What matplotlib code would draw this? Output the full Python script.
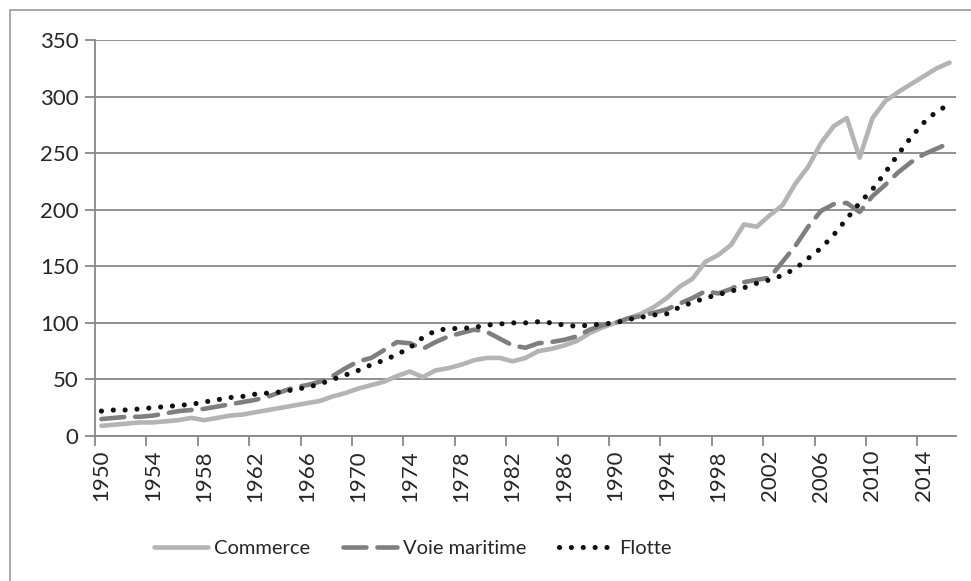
import numpy as np
import matplotlib
matplotlib.use("Agg")
import matplotlib.pyplot as plt
from matplotlib.patches import Rectangle

years = list(range(1950, 2017))

commerce = [9, 10, 11, 12, 12, 13, 14, 16, 14, 16,
            18, 19, 21, 23, 25, 27, 29, 31, 35, 38,
            42, 45, 48, 53, 57, 52, 58, 60, 63, 67,
            69, 69, 66, 69, 75, 77, 80, 84, 91, 96,
            100, 104, 108, 114, 122, 132, 139, 154, 160, 169,
            187, 185, 195, 204, 223, 238, 259, 274, 281, 246,
            281, 296, 304, 311, 318, 325, 330]

voie_maritime = [15, 16, 17, 17, 18, 20, 22, 23, 24, 26,
                 28, 30, 32, 35, 39, 43, 45, 48, 53, 60,
                 66, 69, 76, 83, 82, 77, 83, 88, 91, 94,
                 92, 86, 80, 78, 82, 83, 85, 88, 94, 98,
                 100, 104, 106, 109, 112, 117, 122, 128, 126, 130,
                 136, 138, 140, 154, 168, 185, 199, 205, 206, 198,
                 212, 222, 233, 242, 249, 254, 259]

flotte = [22, 23, 23, 24, 25, 26, 27, 28, 30, 32,
          34, 35, 37, 38, 39, 41, 43, 46, 50, 54,
          58, 63, 67, 72, 78, 87, 93, 95, 95, 96,
          98, 99, 100, 100, 101, 100, 98, 97, 98, 99,
          100, 103, 105, 107, 108, 114, 118, 122, 125, 128,
          131, 135, 138, 142, 148, 157, 166, 178, 192, 206,
          218, 233, 249, 264, 277, 287, 293]

plt.rcParams['font.family'] = ['Lato', 'DejaVu Sans']

W, H = 971, 581
fig = plt.figure(figsize=(W / 100, H / 100), dpi=100)
ax = fig.add_axes([95 / W, 1 - 436 / H, (956 - 95) / W, (436 - 40) / H])

# outer frame of the original chart object
fig.patches.append(Rectangle((10 / W, -0.1), 1.2, 1.1 - 10 / H, transform=fig.transFigure,
                             fill=False, edgecolor='#9a9a9a', lw=1.2))

x = np.arange(len(years))
ax.plot(x, commerce, color='#b4b4b4', lw=3.3, solid_capstyle='round', label='Commerce')
ax.plot(x, voie_maritime, color='#7f7f7f', lw=3.3, linestyle=(0, (5, 2.4)),
        dash_capstyle='round', label='Voie maritime')
ax.plot(x, flotte, color='#111111', lw=3.7, linestyle=(0, (0.01, 2.3)),
        dash_capstyle='round', label='Flotte')

ax.set_xlim(-0.5, len(years) - 0.5)
ax.set_ylim(0, 350)
ax.set_yticks(range(0, 351, 50))
ax.yaxis.grid(True, color='#888888', lw=1.3)
ax.set_axisbelow(True)

ax.set_xticks(x[::4])
ax.set_xticklabels([str(y) for y in years[::4]], rotation=90)
ax.set_xticks(np.arange(-0.5, len(years), 4), minor=True)
ax.tick_params(axis='x', which='major', length=0, pad=10)
ax.tick_params(axis='x', which='minor', length=7, width=1.3, color='#888888')
ax.tick_params(axis='y', length=7, width=1.3, color='#888888', pad=5)
ax.tick_params(labelsize=16, labelcolor='#262626')

for s in ['top', 'right']:
    ax.spines[s].set_visible(False)
for s in ['left', 'bottom']:
    ax.spines[s].set_color('#888888')
    ax.spines[s].set_linewidth(1.3)

fig.legend(loc='center', bbox_to_anchor=(0.425, 1 - 548 / H), ncol=3, frameon=False,
           fontsize=14.5, handlelength=2.7, columnspacing=1.6, handletextpad=0.3,
           labelcolor='#262626')

fig.savefig('out.png', dpi=100)
